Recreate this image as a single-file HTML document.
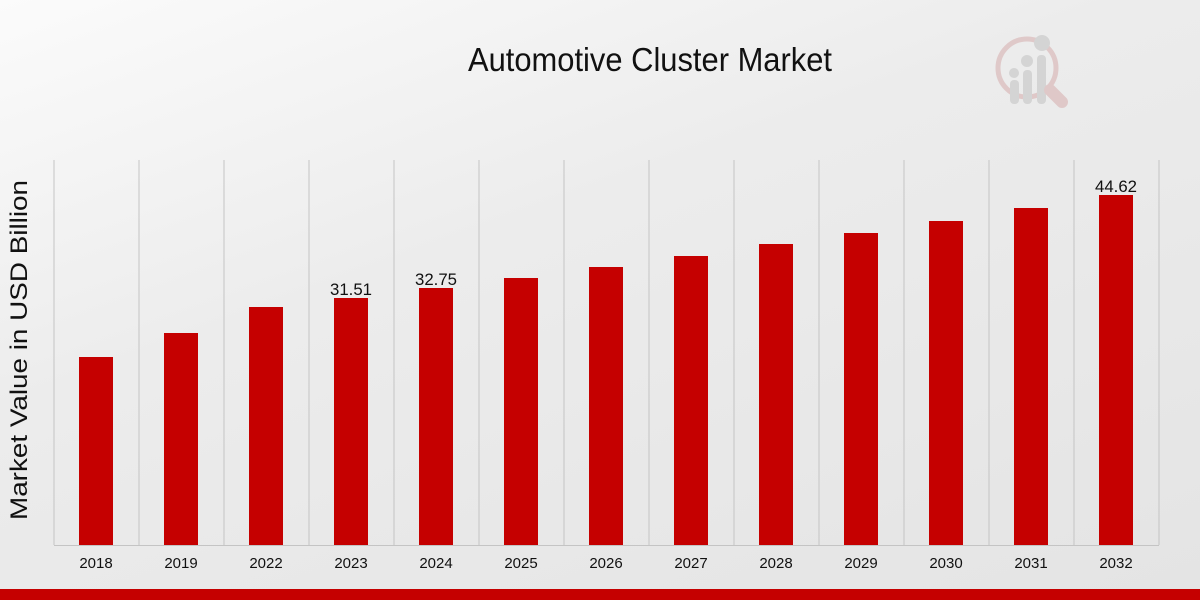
<!DOCTYPE html>
<html><head><meta charset="utf-8"><style>
html,body{margin:0;padding:0}
body{width:1200px;height:600px;overflow:hidden;background:linear-gradient(160deg,#fbfbfb 0%,#ececec 40%,#e4e4e4 100%);font-family:"Liberation Sans",sans-serif}
</style></head><body>
<svg width="1200" height="600" xmlns="http://www.w3.org/2000/svg" style="position:absolute;left:0;top:0">
<text x="650" y="71" text-anchor="middle" font-size="33" textLength="364" lengthAdjust="spacingAndGlyphs" fill="#111">Automotive Cluster Market</text>
<g opacity="0.35">
<circle cx="1027" cy="68" r="29" fill="none" stroke="#c98a8a" stroke-width="5"/>
<rect x="1010" y="80" width="9" height="24" rx="4" fill="#aaa"/>
<rect x="1023" y="70" width="9" height="34" rx="4" fill="#aaa"/>
<rect x="1037" y="55" width="9" height="49" rx="4" fill="#aaa"/>
<circle cx="1014" cy="73" r="5" fill="#aaa"/><circle cx="1027" cy="61" r="6" fill="#aaa"/><circle cx="1042" cy="43" r="8" fill="#aaa"/>
<line x1="1050" y1="90" x2="1062" y2="102" stroke="#c98a8a" stroke-width="12" stroke-linecap="round"/>
</g>
<text transform="translate(27,350) rotate(-90)" text-anchor="middle" font-size="24" textLength="340" lengthAdjust="spacingAndGlyphs" fill="#111">Market Value in USD Billion</text>
<g stroke="#c4c4c4" stroke-width="1">
<line x1="54" y1="160" x2="54" y2="545"/><line x1="139" y1="160" x2="139" y2="545"/><line x1="224" y1="160" x2="224" y2="545"/><line x1="309" y1="160" x2="309" y2="545"/><line x1="394" y1="160" x2="394" y2="545"/><line x1="479" y1="160" x2="479" y2="545"/><line x1="564" y1="160" x2="564" y2="545"/><line x1="649" y1="160" x2="649" y2="545"/><line x1="734" y1="160" x2="734" y2="545"/><line x1="819" y1="160" x2="819" y2="545"/><line x1="904" y1="160" x2="904" y2="545"/><line x1="989" y1="160" x2="989" y2="545"/><line x1="1074" y1="160" x2="1074" y2="545"/><line x1="1159" y1="160" x2="1159" y2="545"/>
<line x1="54" y1="545.5" x2="1159" y2="545.5"/>
</g>
<g fill="#c50000">
<rect x="79" y="357" width="34" height="188"/><rect x="164" y="333" width="34" height="212"/><rect x="249" y="307" width="34" height="238"/><rect x="334" y="298" width="34" height="247"/><rect x="419" y="288" width="34" height="257"/><rect x="504" y="278" width="34" height="267"/><rect x="589" y="267" width="34" height="278"/><rect x="674" y="256" width="34" height="289"/><rect x="759" y="244" width="34" height="301"/><rect x="844" y="233" width="34" height="312"/><rect x="929" y="221" width="34" height="324"/><rect x="1014" y="208" width="34" height="337"/><rect x="1099" y="195" width="34" height="350"/>
</g>
<g font-size="17" fill="#111" text-anchor="middle">
<text x="351" y="295" textLength="42" lengthAdjust="spacingAndGlyphs">31.51</text><text x="436" y="285" textLength="42" lengthAdjust="spacingAndGlyphs">32.75</text><text x="1116" y="192" textLength="42" lengthAdjust="spacingAndGlyphs">44.62</text>
</g>
<g font-size="15" fill="#111" text-anchor="middle">
<text x="96" y="568">2018</text><text x="181" y="568">2019</text><text x="266" y="568">2022</text><text x="351" y="568">2023</text><text x="436" y="568">2024</text><text x="521" y="568">2025</text><text x="606" y="568">2026</text><text x="691" y="568">2027</text><text x="776" y="568">2028</text><text x="861" y="568">2029</text><text x="946" y="568">2030</text><text x="1031" y="568">2031</text><text x="1116" y="568">2032</text>
</g>
<rect x="0" y="589" width="1200" height="11" fill="#c50000"/>
</svg>
</body></html>
